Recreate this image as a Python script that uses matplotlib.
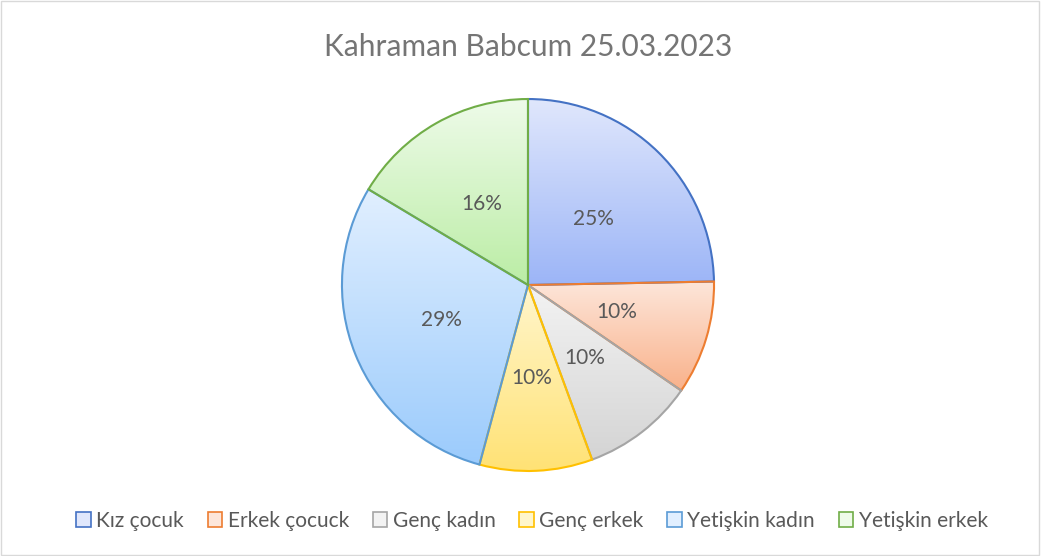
import numpy as np
import matplotlib
matplotlib.use('Agg')
import matplotlib.pyplot as plt
from matplotlib.patches import Patch, Rectangle
from matplotlib.colors import LinearSegmentedColormap

plt.rcParams['font.family'] = ['Lato', 'DejaVu Sans']

title = 'Kahraman Babcum 25.03.2023'
categories = ['Kız çocuk', 'Erkek çocuck', 'Genç kadın', 'Genç erkek', 'Yetişkin kadın', 'Yetişkin erkek']
shares = [24.7, 9.9, 9.8, 9.8, 29.4, 16.4]

# per slice: gradient top, gradient bottom, edge
top_colors = ['#e0e7fc', '#fde6da', '#f3f3f3', '#fff6cc', '#e1efff', '#eefbe9']
bottom_colors = ['#9cb5f7', '#f9b18a', '#d4d4d4', '#ffe275', '#9bcbfc', '#bbeda5']
edge_colors = ['#4472c4', '#ed7d31', '#a5a5a5', '#ffc000', '#5b9bd5', '#70ad47']

text_grey = '#595959'

fig = plt.figure(figsize=(10.41, 5.56), dpi=100)
fig.patches.append(Rectangle((0.001, 0.001), 0.997, 0.997, transform=fig.transFigure,
                             fill=False, edgecolor='#d9d9d9', linewidth=1))

# pie centre ~ (528, 285) px, radius ~187 px
ax = fig.add_axes([0.3285, 0.1529, 0.3574, 0.669])
wedges, texts, autotexts = ax.pie(shares, startangle=90, counterclock=False,
                                  colors=bottom_colors, radius=1,
                                  autopct='%1.0f%%', pctdistance=0.5,
                                  wedgeprops=dict(linewidth=1.5))

for w, c0, c1, ec in zip(wedges, top_colors, bottom_colors, edge_colors):
    bb = w.get_path().get_extents()
    cmap = LinearSegmentedColormap.from_list('g', [c1, c0])
    grad = np.linspace(0, 1, 256).reshape(-1, 1)
    im = ax.imshow(grad, cmap=cmap, origin='lower', aspect='auto',
                   extent=[bb.x0, bb.x1, bb.y0, bb.y1], zorder=1)
    im.set_clip_path(w)
    w.set_facecolor('none')
    w.set_edgecolor(ec)
    w.set_zorder(2)

for t in autotexts:
    t.set_color(text_grey)
    t.set_fontsize(15)
    t.set_zorder(3)

ax.set_xlim(-1.0, 1.0)
ax.set_ylim(-1.0, 1.0)
ax.set_aspect('auto')
ax.axis('off')

fig.text(0.507, 0.915, title, ha='center', va='center', fontsize=21.5, color='#757575')

handles = [Patch(facecolor=c0, edgecolor=ec, linewidth=1.2)
           for c0, ec in zip(top_colors, edge_colors)]
fig.legend(handles, categories, loc='center', bbox_to_anchor=(0.511, 0.063), ncol=6,
           frameon=False, fontsize=15, labelcolor=text_grey,
           handlelength=0.7, handleheight=0.7, handletextpad=0.25, columnspacing=1.15)

fig.savefig('out.png', dpi=100)
